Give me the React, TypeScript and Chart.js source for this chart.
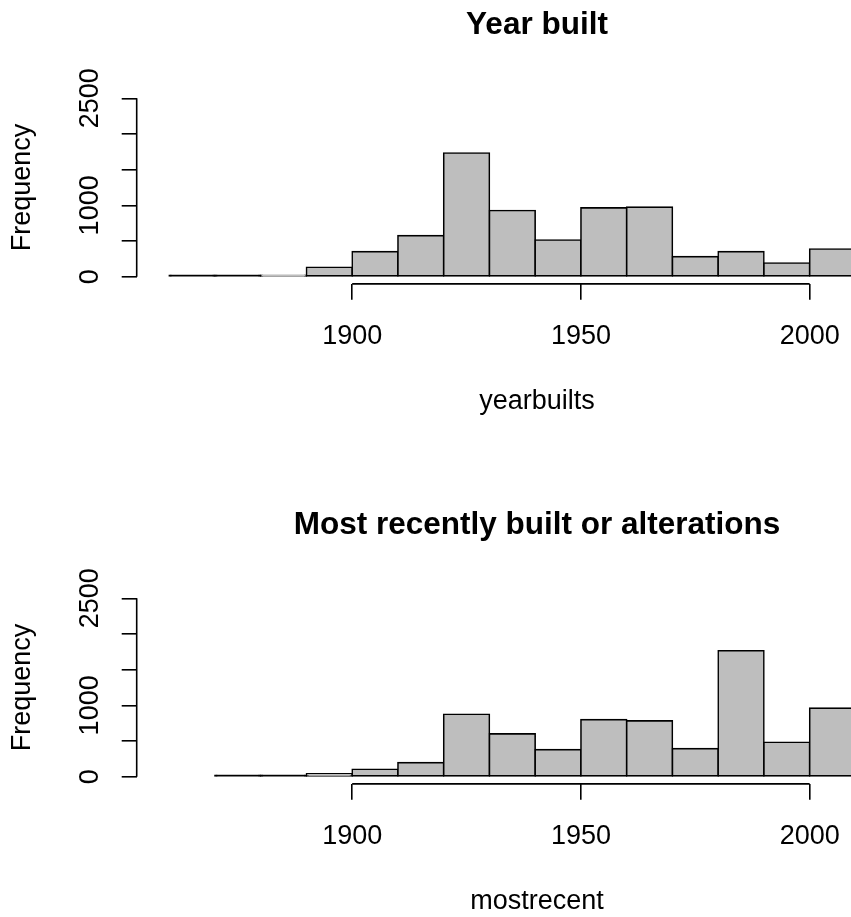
import React, { useEffect, useRef } from "react";
import { Chart, registerables } from "chart.js";

Chart.register(...registerables);

const FONT = "'Liberation Sans', Arial, Helvetica, sans-serif";

// ---- data ----
const yearBuiltBins = [1860, 1870, 1880, 1890, 1900, 1910, 1920, 1930, 1940, 1950, 1960, 1970, 1980, 1990, 2000];
const yearBuiltCounts = [4, 4, 15, 132, 351, 576, 1733, 927, 515, 965, 975, 281, 351, 192, 389];

const mostRecentBins = [1870, 1880, 1890, 1900, 1910, 1920, 1930, 1940, 1950, 1960, 1970, 1980, 1990, 2000];
const mostRecentCounts = [3, 3, 42, 104, 197, 876, 600, 379, 800, 782, 393, 1765, 483, 961];

const binWidth = 10;
const xTicks = [1900, 1950, 2000];
const yTicks = [0, 500, 1000, 1500, 2000, 2500];
const yTickLabels = ["0", "", "1000", "", "", "2500"];
const titles = ["Year built", "Most recently built or alterations"];
const xAxisLabels = ["yearbuilts", "mostrecent"];
const yAxisLabel = "Frequency";
const xRange = [1852.9, 2027.9];
const yRange = [-100, 2600];

const CANVAS_W = 1000;
const CANVAS_H = 500;
const LW = 1.6;

const rAxisLines = {
  id: "rAxisLines",
  afterDraw(chart: any) {
    const { ctx, chartArea, scales } = chart;
    const x = scales.x;
    const y = scales.y;
    ctx.save();
    ctx.strokeStyle = "#000";
    ctx.lineWidth = LW;
    ctx.beginPath();
    ctx.moveTo(x.getPixelForValue(xTicks[0]), chartArea.bottom);
    ctx.lineTo(x.getPixelForValue(xTicks[xTicks.length - 1]), chartArea.bottom);
    ctx.moveTo(chartArea.left, y.getPixelForValue(yTicks[0]));
    ctx.lineTo(chartArea.left, y.getPixelForValue(yTicks[yTicks.length - 1]));
    ctx.stroke();
    ctx.restore();
  },
};

function Panel(props: { title: string; xLabel: string; bins: number[]; counts: number[]; top: number }) {
  const ref = useRef<HTMLCanvasElement | null>(null);
  useEffect(() => {
    if (!ref.current) return;
    const data = props.bins.map((b, i) => ({ x: b + binWidth / 2, y: props.counts[i] }));
    const chart = new Chart(ref.current, {
      type: "bar",
      data: {
        datasets: [
          {
            data,
            backgroundColor: (c: any) => (c.raw && c.raw.y < 10 ? "#000" : "#BEBEBE"),
            borderColor: "#000",
            borderWidth: LW,
            borderSkipped: false,
            inflateAmount: LW / 2,
            minBarLength: 1.5,
            barPercentage: 1,
            categoryPercentage: 1,
            grouped: false,
          } as any,
        ],
      },
      options: {
        animation: false,
        responsive: false,
        devicePixelRatio: 1,
        layout: { padding: { left: 0, right: CANVAS_W - 937.3, top: 0, bottom: 0 } },
        plugins: {
          legend: { display: false },
          tooltip: { enabled: false },
          title: {
            display: true,
            text: props.title,
            fullSize: false,
            color: "#000",
            font: { family: FONT, size: 31.5, weight: "bold" },
            padding: { top: 6, bottom: 47.4 },
          },
        },
        scales: {
          x: {
            type: "linear",
            min: xRange[0],
            max: xRange[1],
            offset: false,
            afterBuildTicks: (s: any) => {
              s.ticks = xTicks.map((v) => ({ value: v }));
            },
            afterFit: (s: any) => {
              s.height = CANVAS_H - 283.83;
            },
            grid: { offset: false, drawOnChartArea: false, drawTicks: true, tickLength: 16, color: "#000", lineWidth: LW },
            border: { display: false },
            ticks: {
              color: "#000",
              font: { family: FONT, size: 27 },
              padding: 21,
              maxRotation: 0,
              autoSkip: false,
              callback: (v: any) => String(v),
            },
            title: {
              display: true,
              text: props.xLabel,
              color: "#000",
              font: { family: FONT, size: 27 },
              padding: { top: 0, bottom: 82.5 },
            },
          },
          y: {
            type: "linear",
            min: yRange[0],
            max: yRange[1],
            afterBuildTicks: (s: any) => {
              s.ticks = yTicks.map((v) => ({ value: v }));
            },
            afterFit: (s: any) => {
              s.width = 136.7;
            },
            grid: { drawOnChartArea: false, drawTicks: true, tickLength: 15, color: "#000", lineWidth: LW },
            border: { display: false },
            ticks: {
              color: "#000",
              font: { family: FONT, size: 27 },
              padding: 1,
              minRotation: 90,
              maxRotation: 90,
              crossAlign: "center",
              autoSkip: false,
              callback: (v: any) => {
                const i = yTicks.indexOf(v);
                return i >= 0 ? yTickLabels[i] : "";
              },
            },
            title: {
              display: true,
              text: yAxisLabel,
              color: "#000",
              font: { family: FONT, size: 27 },
              padding: { top: 6.8, bottom: 0 },
            },
          },
        },
      },
      plugins: [rAxisLines],
    } as any);
    return () => chart.destroy();
  }, []);
  return (
    <canvas
      ref={ref}
      width={CANVAS_W}
      height={CANVAS_H}
      style={{ position: "absolute", left: 0, top: props.top, width: CANVAS_W, height: CANVAS_H }}
    />
  );
}

export default function App() {
  return (
    <div
      style={{
        position: "absolute",
        left: 0,
        top: 0,
        width: 851,
        height: 917,
        overflow: "hidden",
        background: "#fff",
      }}
    >
      <Panel title={titles[0]} xLabel={xAxisLabels[0]} bins={yearBuiltBins} counts={yearBuiltCounts} top={0} />
      <Panel title={titles[1]} xLabel={xAxisLabels[1]} bins={mostRecentBins} counts={mostRecentCounts} top={500} />
    </div>
  );
}
